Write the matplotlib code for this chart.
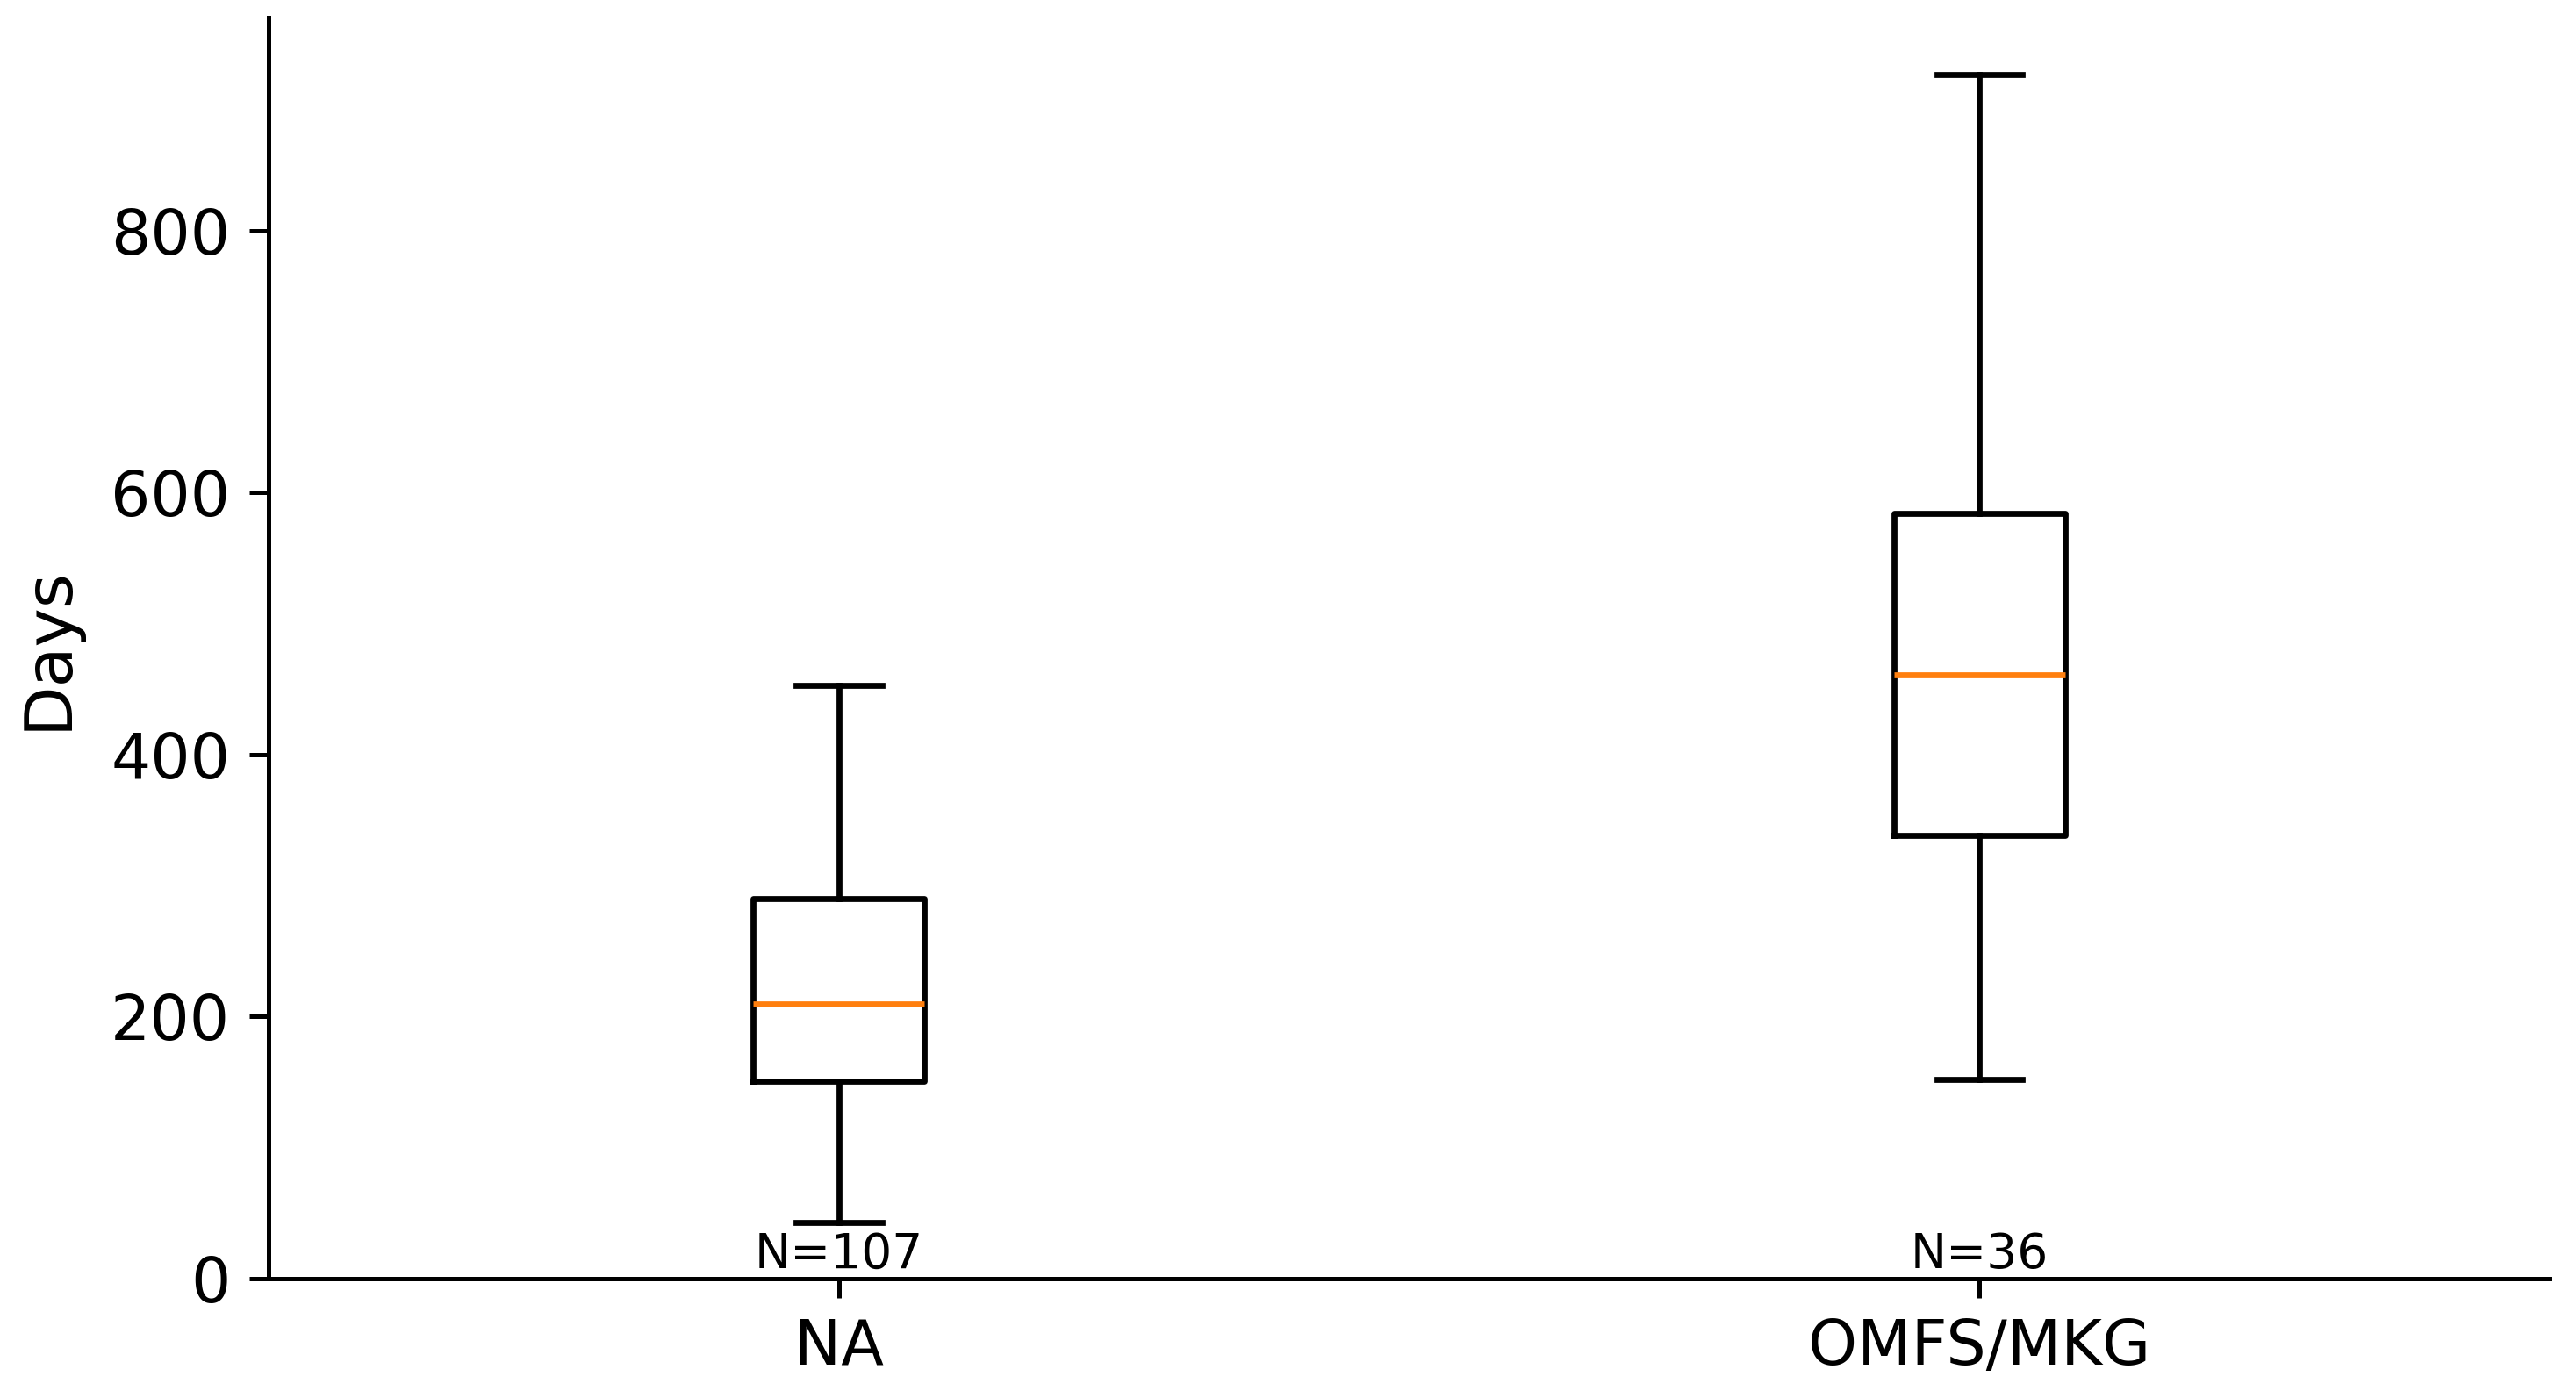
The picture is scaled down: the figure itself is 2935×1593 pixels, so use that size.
import matplotlib
matplotlib.use("Agg")
import matplotlib.pyplot as plt

categories = ['NA', 'OMFS/MKG']
whis_low = [43, 152]
q1 = [151, 338]
median = [210, 461]
q3 = [290, 584]
whis_high = [453, 919]
counts = [107, 36]

DPI = 450
fig = plt.figure(figsize=(2935 / DPI, 1593 / DPI), dpi=DPI)
ax = fig.add_axes([0.1043, 0.0854, 0.8855, 0.9021])

stats = []
for i, c in enumerate(categories):
    stats.append(dict(label=c, whislo=whis_low[i], q1=q1[i], med=median[i],
                      q3=q3[i], whishi=whis_high[i], fliers=[]))

positions = list(range(1, len(categories) + 1))
lw = 1.08
ax.bxp(stats, positions=positions, showfliers=False,
       boxprops=dict(linewidth=lw), whiskerprops=dict(linewidth=lw),
       capprops=dict(linewidth=lw), medianprops=dict(linewidth=lw, color='#ff7f0e'))

ax.set_xlim(0.5, len(categories) + 0.5)
ax.set_ylim(bottom=0)

for p, n in zip(positions, counts):
    ax.text(p, 0, f"N={n}", ha='center', va='bottom', fontsize=8.8)

ax.set_ylabel('Days', fontsize=12, labelpad=5.5)
ax.tick_params(axis='both', labelsize=11.4)
ax.spines['top'].set_visible(False)
ax.spines['right'].set_visible(False)

fig.savefig('out.png', dpi=DPI)
